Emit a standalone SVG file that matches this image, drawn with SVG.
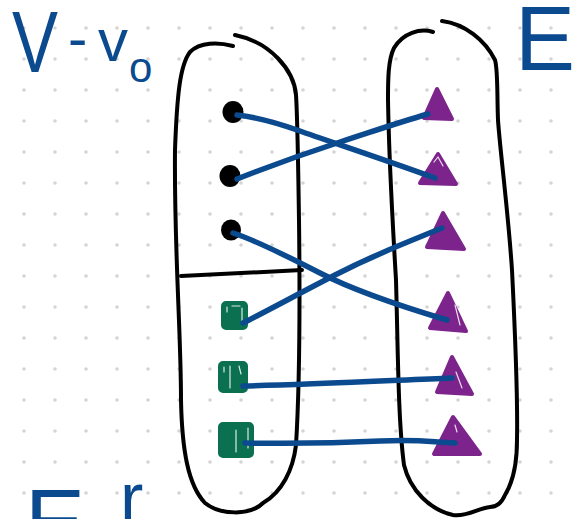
<svg xmlns="http://www.w3.org/2000/svg" width="578" height="519" viewBox="0 0 578 519">
  <defs>
    <pattern id="dots" width="31" height="31" patternUnits="userSpaceOnUse">
      <circle cx="24" cy="28" r="1.8" fill="#d4d4d4"/>
    </pattern>
    <style>
      .ink { fill: none; stroke: #000; stroke-width: 4; stroke-linecap: round; stroke-linejoin: round; }
      .edge { fill: none; stroke: #0b4a8e; stroke-width: 5.5; stroke-linecap: round; stroke-linejoin: round; }
      .vert { fill: #000; }
      .sq { fill: #0a7050; stroke: #0a7050; stroke-width: 2; stroke-linejoin: round; }
      .tri { fill: #7d238c; stroke: #7d238c; stroke-width: 4; stroke-linejoin: round; }
      .hl { fill: none; stroke: #fff; stroke-width: 1.2; stroke-linecap: round; opacity: 0.85; }
      .lbl { fill: #0b4a8e; font-family: "Liberation Sans", Arial, sans-serif; }
    </style>
  </defs>

  <!-- paper with dot grid -->
  <rect width="578" height="519" fill="#fff"/>
  <rect width="578" height="519" fill="url(#dots)"/>

  <!-- labels -->
  <g id="label-V-v0" class="lbl">
    <text x="12" y="72" font-size="88" textLength="46" lengthAdjust="spacingAndGlyphs">V</text>
    <text x="68" y="58" font-size="58">-</text>
    <text x="98" y="61" font-size="60">v</text>
    <text x="129" y="82" font-size="42">o</text>
  </g>
  <g id="label-E" class="lbl">
    <text x="515" y="70" font-size="90">E</text>
  </g>
  <g id="label-bottom" class="lbl">
    <text x="25" y="553" font-size="90">E</text>
    <text x="120" y="522" font-size="70">r</text>
  </g>

  <!-- left set: V - v0, split into two parts -->
  <g id="set-left">
    <path class="ink" d="M233,46 C218,42 200,42 190,52 C180,65 177,95 175,150 C174,250 181,330 181,400 C182,450 188,485 205,503 C220,515 250,516 263,503 C282,492 293,470 296,445 C300,380 300,300 299,220 C298,150 297,110 296,95 C294,70 270,42 235,35"/>
    <path class="ink" d="M181,276 C220,274 260,272 302,270"/>
  </g>

  <!-- right set: E -->
  <g id="set-right">
    <path class="ink" d="M433,32 C420,28 403,33 394,48 C388,60 388,80 388,100 C389,160 393,230 396,280 C398,350 398,420 404,465 C410,490 430,510 453,515 C468,517 478,508 490,507 C498,507 502,502 505,495 C513,482 517,465 517,440 C518,390 515,330 512,270 C508,210 500,150 498,120 C497,95 498,70 495,60 C485,40 465,24 442,21"/>
  </g>

  <!-- vertices (upper part) -->
  <g id="v1"><ellipse class="vert" cx="233" cy="112" rx="10.5" ry="11"/></g>
  <g id="v2"><ellipse class="vert" cx="230" cy="176" rx="10.5" ry="11"/></g>
  <g id="v3"><ellipse class="vert" cx="231" cy="230" rx="10" ry="10.5"/></g>

  <!-- vertices (lower part) -->
  <g id="s1">
    <rect class="sq" x="222" y="302" width="25" height="27" rx="4"/>
    <path class="hl" d="M227,307 L227,312 M232,306 L240,306 M242,308 L242,323"/>
  </g>
  <g id="s2">
    <rect class="sq" x="219" y="362" width="28" height="30" rx="4"/>
    <path class="hl" d="M224,367 L224,372 M230,366 L230,388 M239,366 L241,374"/>
  </g>
  <g id="s3">
    <rect class="sq" x="219" y="423" width="34" height="34" rx="4"/>
    <path class="hl" d="M248,428 L248,448 M236,430 L236,452"/>
  </g>

  <!-- edges set -->
  <g id="e1"><path class="tri" d="M437,89 L424,118 L452,119 Z"/></g>
  <g id="e2"><path class="tri" d="M438,154 L420,183 L456,184 Z"/><path class="hl" d="M434,162 L438,157 L443,166"/></g>
  <g id="e3"><path class="tri" d="M443,213 L427,247 L464,249 Z"/></g>
  <g id="e4"><path class="tri" d="M448,293 L430,328 L466,331 Z"/><path class="hl" d="M455,305 L460,325"/></g>
  <g id="e5"><path class="tri" d="M452,357 L437,392 L472,394 Z"/><path class="hl" d="M456,372 L462,388"/></g>
  <g id="e6"><path class="tri" d="M453,417 L434,454 L480,454 Z"/><path class="hl" d="M455,425 L457,432"/></g>

  <!-- connectors -->
  <g id="connectors">
    <path class="edge" d="M237,115 C255,117 275,122 300,131 S380,158 435,178"/>
    <path class="edge" d="M237,179 C265,168 300,155 340,142 S400,122 428,114"/>
    <path class="edge" d="M233,233 C255,240 285,255 320,273 S400,306 447,320"/>
    <path class="edge" d="M243,323 C265,312 300,293 335,275 S400,245 442,228"/>
    <path class="edge" d="M243,386 C300,385 380,381 452,378"/>
    <path class="edge" d="M245,443 C300,444 340,443 380,441 S430,442 455,443"/>
  </g>
</svg>
